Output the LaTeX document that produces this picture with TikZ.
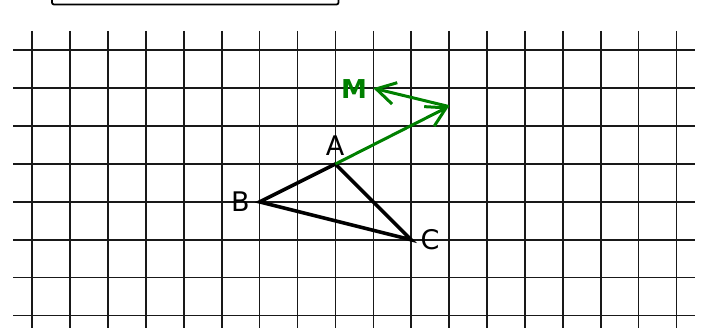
\documentclass[tikz,border=0pt]{standalone}
\usepackage{fontspec}
\setmainfont{DejaVu Sans}
\usetikzlibrary{arrows.meta}
\definecolor{vecgreen}{RGB}{0,128,0}
\begin{document}
\begin{tikzpicture}[x=1pt,y=-1pt,
  gridline/.style={line width=1.6pt, black!90},
  edge/.style={line width=3.6pt, black},
  vec/.style={line width=3pt, vecgreen, -{Straight Barb[length=19pt,width=22pt]}},
  lbl/.style={font=\fontsize{27}{30}\selectfont, inner sep=0pt},
  framebox/.style={line width=1.8pt, rounded corners=2pt}]
\useasboundingbox (0,0) rectangle (705,328);
\clip (0,0) rectangle (705,328);
% top box (cut by the edge)
\draw[framebox] (52,-20) rectangle (338.5,4.5);
% grid
\foreach \k in {0,...,17} \draw[gridline] ({32.2+37.9*\k},31) -- ({32.2+37.9*\k},340);
\foreach \j in {0,...,7} \draw[gridline] (13,{50.3+37.9*\j}) -- (695,{50.3+37.9*\j});
% points
\coordinate (A) at (335.4,164.0);
\coordinate (B) at (259.6,201.9);
\coordinate (C) at (411.2,239.8);
\coordinate (P) at (448.8,106.5);
\coordinate (M) at (373.3,88.2);
% triangle
\draw[edge] (A) -- (B) -- (C) -- cycle;
% vectors
\draw[vec] (A) -- (P);
\draw[vec] (P) -- (M);
% labels
\node[lbl] (la) at (335,146) {A};
\node[lbl] (lb) at (240.5,202) {B};
\node[lbl] (lc) at (430,240) {C};
\node[lbl, text=vecgreen, font=\fontsize{26}{30}\selectfont\bfseries] (lm) at (354,89) {M};
\end{tikzpicture}
\end{document}
